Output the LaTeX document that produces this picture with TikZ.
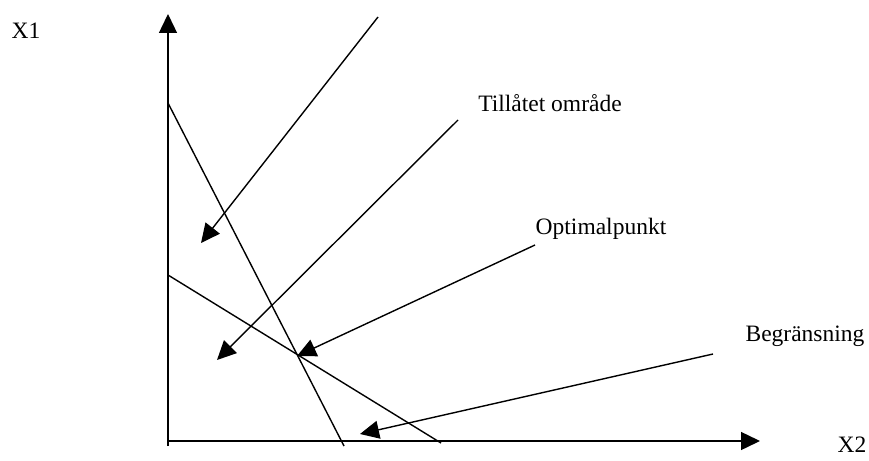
\documentclass[tikz,border=0pt]{standalone}
\usepackage{fontspec}
\setmainfont{Liberation Serif}
\usetikzlibrary{arrows.meta}
\tikzset{
  ln/.style={line width=1.4pt, black},
  arr/.style={ln, -{Triangle[length=19pt,width=18pt]}},
  lbl/.style={font=\fontsize{23.5}{26}\selectfont, inner sep=0pt}
}
\begin{document}
\begin{tikzpicture}[x=1pt,y=-1pt]
\useasboundingbox (0,0) rectangle (869,460);
% axes
\coordinate (O) at (168,441);
\coordinate (ytop) at (168,14);
\coordinate (xend) at (760,441);
\coordinate (ybot) at (168,446);
\draw[arr] (ybot) -- (ytop);
\draw[arr] (O) -- (xend);
\node[lbl] (x1) at (26,31) {X1};
\node[lbl] (x2) at (852,445) {X2};
% constraint lines
\coordinate (l1a) at (168,103);
\coordinate (l1b) at (344,446);
\coordinate (l2a) at (168,275);
\coordinate (l2b) at (441,443);
\draw[ln] (l1a) -- (l1b);
\draw[ln] (l2a) -- (l2b);
% labels
\node[lbl] (till) at (550,103) {Tillåtet område};
\node[lbl] (opt) at (601,229) {Optimalpunkt};
\node[lbl] (beg) at (805,336) {Begränsning};
% arrow starts and tips
\coordinate (aS) at (378,17);
\coordinate (aT) at (201,243);
\coordinate (bS) at (458,120);
\coordinate (bT) at (217,360);
\coordinate (cS) at (535,245);
\coordinate (cT) at (297,356);
\coordinate (dS) at (713,354);
\coordinate (dT) at (360,434);
\draw[arr] (aS) -- (aT);
\draw[arr] (bS) -- (bT);
\draw[arr] (cS) -- (cT);
\draw[arr] (dS) -- (dT);
\end{tikzpicture}
\end{document}
